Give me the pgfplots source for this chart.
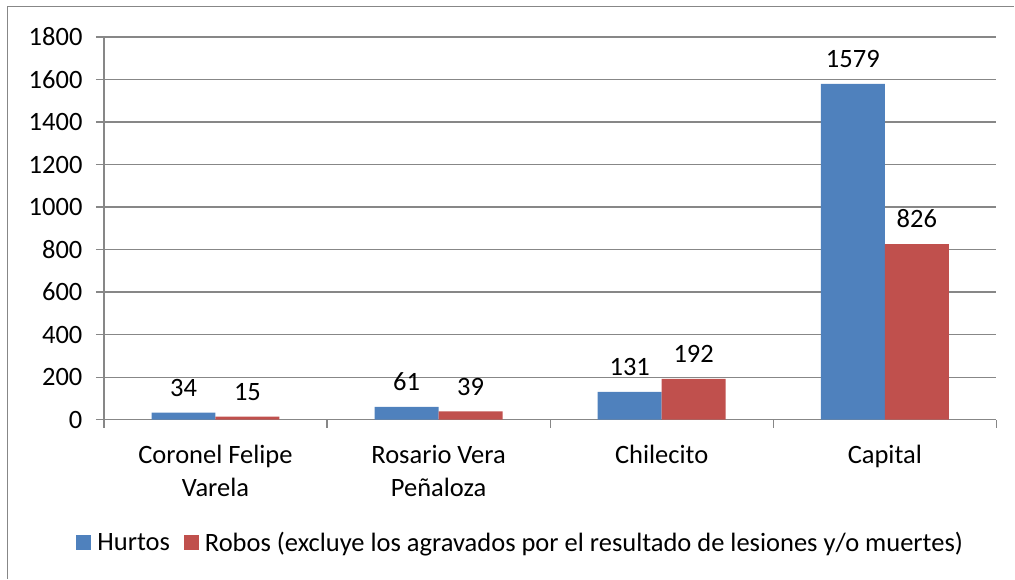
\documentclass[border=0pt]{standalone}
\usepackage{fontspec}
\setmainfont{Carlito}
\usepackage{pgfplots}
\pgfplotsset{compat=1.18}
\definecolor{cblue}{HTML}{4F81BD}
\definecolor{cred}{HTML}{C0504D}
\definecolor{cgrid}{HTML}{878787}
\begin{document}
\begin{tikzpicture}[font=\fontsize{26.5}{33}\selectfont]
\path (0pt,0pt) rectangle (1015pt,-579pt);
\draw[cgrid, line width=1.3pt] (7.5pt,-579pt) -- (7.5pt,-6.5pt) -- (1015pt,-6.5pt);
\begin{axis}[
  at={(104pt,-420pt)}, anchor=south west,
  scale only axis, width=893pt, height=383pt,
  xmin=-0.5, xmax=3.5, ymin=0, ymax=1800,
  ytick={0,200,...,1800},
  ymajorgrids, grid style={cgrid, line width=1.3pt},
  axis x line*=bottom, axis y line*=left,
  axis line style={cgrid, line width=1.3pt, -},
  tick style={cgrid, line width=1.3pt},
  tick align=outside, major tick length=8pt,
  xtick={-0.5,0.5,1.5,2.5,3.5}, xticklabels={},
  extra x ticks={0,1,2,3},
  extra x tick labels={Coronel Felipe\\Varela, Rosario Vera\\Peñaloza, Chilecito, Capital},
  extra x tick style={major tick length=0pt, tick label style={align=center, anchor=north, yshift=-22pt}},
  /pgf/number format/assume math mode=true,
  /pgf/number format/1000 sep={},
  yticklabel style={xshift=-10pt},
  ybar=0pt, bar width=64pt,
  nodes near coords,
  every node near coord/.append style={yshift=12.5pt, text=black},
  legend columns=2,
  legend style={at={(0.467,-0.321)}, anchor=center, draw=none, fill=none, inner sep=0pt,
    /tikz/every odd column/.append style={column sep=4pt},
    /tikz/every even column/.append style={column sep=12pt}},
  legend image code/.code={\fill[#1] (0pt,-7.5pt) rectangle (15pt,7.5pt);},
  legend cell align=left,
  clip=false,
]
\addplot[fill=cblue, draw=none] coordinates {(0,34) (1,61) (2,131) (3,1579)};
\addplot[fill=cred, draw=none] coordinates {(0,15) (1,39) (2,192) (3,826)};
\legend{Hurtos, Robos (excluye los agravados por el resultado de lesiones y/o muertes)}
\end{axis}
\end{tikzpicture}
\end{document}
